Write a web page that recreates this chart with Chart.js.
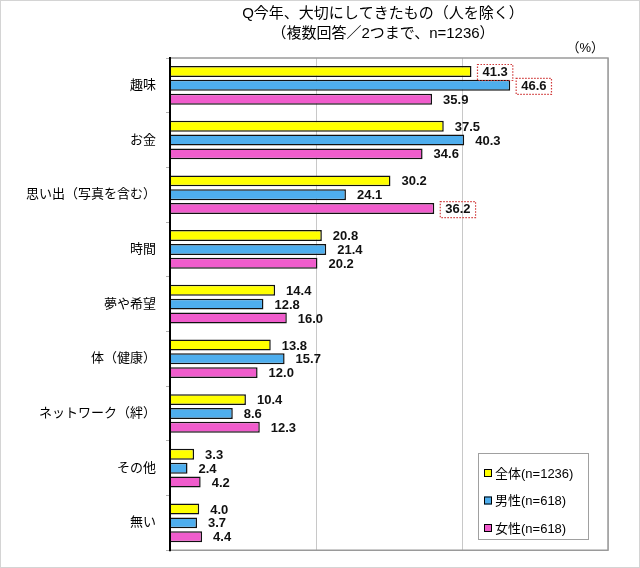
<!DOCTYPE html>
<html>
<head>
<meta charset="utf-8">
<script src="https://cdn.jsdelivr.net/npm/chart.js@4/dist/chart.umd.min.js"></script>
<style>
  html, body { margin: 0; padding: 0; background: #fff; }
  canvas { display: block; }
</style>
</head>
<body>
<canvas id="bar-chart-grouped" width="640" height="568"></canvas>
<script>
// categories and values (%)
var categories = ["趣味", "お金", "思い出（写真を含む）", "時間", "夢や希望", "体（健康）", "ネットワーク（絆）", "その他", "無い"];
var seriesNames = ["全体(n=1236)", "男性(n=618)", "女性(n=618)"];
var allValues = [41.3, 37.5, 30.2, 20.8, 14.4, 13.8, 10.4, 3.3, 4.0];
var maleValues = [46.6, 40.3, 24.1, 21.4, 12.8, 15.7, 8.6, 2.4, 3.7];
var femaleValues = [35.9, 34.6, 36.2, 20.2, 16.0, 12.0, 12.3, 4.2, 4.4];
var xTicks = [0, 20, 40, 60];
// values with a dotted red box: [series index, category index]
var boxed = [[0, 0], [1, 0], [2, 2]];

var titleLines = ["Q今年、大切にしてきたもの（人を除く）", "（複数回答／2つまで、n=1236）"];
var FONT = "'Liberation Sans', 'Noto Sans CJK JP', sans-serif";

var framePlugin = {
    id: 'frame',
    beforeDraw: function(chart) {
        var ctx = chart.ctx;
        ctx.save();
        ctx.fillStyle = '#fff';
        ctx.fillRect(0, 0, chart.width, chart.height);
        ctx.strokeStyle = '#d4d4d4';
        ctx.lineWidth = 1;
        ctx.strokeRect(0.5, 0.5, chart.width - 1, chart.height - 1);
        ctx.restore();
    },
    afterDraw: function(chart) {
        var ctx = chart.ctx, a = chart.chartArea;
        ctx.save();
        // plot frame
        ctx.strokeStyle = '#9a9a9a';
        ctx.lineWidth = 1.5;
        ctx.beginPath();
        ctx.moveTo(a.left, a.top);
        ctx.lineTo(a.right, a.top);
        ctx.lineTo(a.right, a.bottom);
        ctx.lineTo(a.left, a.bottom);
        ctx.stroke();
        ctx.strokeStyle = '#000';
        ctx.lineWidth = 2;
        ctx.beginPath();
        ctx.moveTo(a.left, a.top - 1);
        ctx.lineTo(a.left, a.bottom + 1);
        ctx.stroke();

        // title
        var cx = (a.left + a.right) / 2 - 6;
        ctx.fillStyle = '#000';
        ctx.font = '15px ' + FONT;
        ctx.textAlign = 'center';
        ctx.textBaseline = 'middle';
        ctx.fillText(titleLines[0], cx, 14);
        ctx.fillText(titleLines[1], cx, 34);
        ctx.font = '13px ' + FONT;
        ctx.textAlign = 'right';
        ctx.fillText('（%）', a.right - 4, 48);

        // legend
        var lx = 478, ly = 453, lw = 110, lh = 86;
        ctx.fillStyle = '#fff';
        ctx.fillRect(lx, ly, lw, lh);
        ctx.strokeStyle = '#a0a0a0';
        ctx.lineWidth = 1;
        ctx.strokeRect(lx + 0.5, ly + 0.5, lw, lh);
        ctx.font = '13px ' + FONT;
        ctx.textAlign = 'left';
        chart.data.datasets.forEach(function(ds, i) {
            var y = 473 + i * 27.5;
            ctx.fillStyle = ds.backgroundColor;
            ctx.fillRect(lx + 6, y - 4, 8, 8);
            ctx.strokeStyle = '#000';
            ctx.strokeRect(lx + 6.5, y - 3.5, 7, 7);
            ctx.fillStyle = '#000';
            ctx.fillText(ds.label, lx + 17, y + 1);
        });
        ctx.restore();
    }
};

var labelPlugin = {
    id: 'valueLabels',
    afterDatasetsDraw: function(chart) {
        var ctx = chart.ctx;
        ctx.save();
        ctx.font = 'bold 13px ' + FONT;
        ctx.textAlign = 'left';
        ctx.textBaseline = 'middle';
        chart.data.datasets.forEach(function(ds, di) {
            var meta = chart.getDatasetMeta(di);
            meta.data.forEach(function(bar, i) {
                var text = ds.data[i].toFixed(1);
                var x = bar.x + 11, y = bar.y + 1;
                var isBoxed = boxed.some(function(b) { return b[0] === di && b[1] === i; });
                if (isBoxed) {
                    var w = ctx.measureText(text).width;
                    ctx.strokeStyle = '#d03a3a';
                    ctx.lineWidth = 1.2;
                    ctx.setLineDash([1.5, 1.5]);
                    ctx.strokeRect(x - 5, y - 8, w + 10, 16);
                    ctx.setLineDash([]);
                }
                ctx.fillStyle = '#111';
                ctx.fillText(text, x, y);
            });
        });
        ctx.restore();
    }
};

new Chart(document.getElementById("bar-chart-grouped"), {
    type: 'bar',
    data: {
        labels: categories,
        datasets: [
            {
                label: seriesNames[0],
                backgroundColor: "#ffff00",
                data: allValues
            }, {
                label: seriesNames[1],
                backgroundColor: "#4eaeee",
                data: maleValues
            }, {
                label: seriesNames[2],
                backgroundColor: "#f05ccc",
                data: femaleValues
            }
        ]
    },
    options: {
        indexAxis: 'y',
        responsive: false,
        animation: false,
        layout: { padding: { top: 58, right: 32, bottom: 12, left: 0 } },
        datasets: {
            bar: {
                borderColor: '#111',
                borderWidth: 1.5,
                categoryPercentage: 0.76,
                barPercentage: 0.79
            }
        },
        plugins: {
            legend: { display: false },
            title: { display: false },
            tooltip: { enabled: false }
        },
        scales: {
            x: {
                min: xTicks[0],
                max: xTicks[xTicks.length - 1],
                afterBuildTicks: function(axis) {
                    axis.ticks = xTicks.map(function(v) { return { value: v }; });
                },
                ticks: { display: false },
                grid: { color: '#c8c8c8', lineWidth: 1, drawTicks: false },
                border: { display: false }
            },
            y: {
                afterFit: function(axis) { axis.width = 170; },
                ticks: {
                    color: '#000',
                    font: { family: FONT, size: 13 },
                    padding: 10
                },
                grid: {
                    offset: true,
                    drawOnChartArea: false,
                    tickLength: 4,
                    color: '#b0b0b0'
                },
                border: { display: false }
            }
        }
    },
    plugins: [framePlugin, labelPlugin]
});
</script>
</body>
</html>
